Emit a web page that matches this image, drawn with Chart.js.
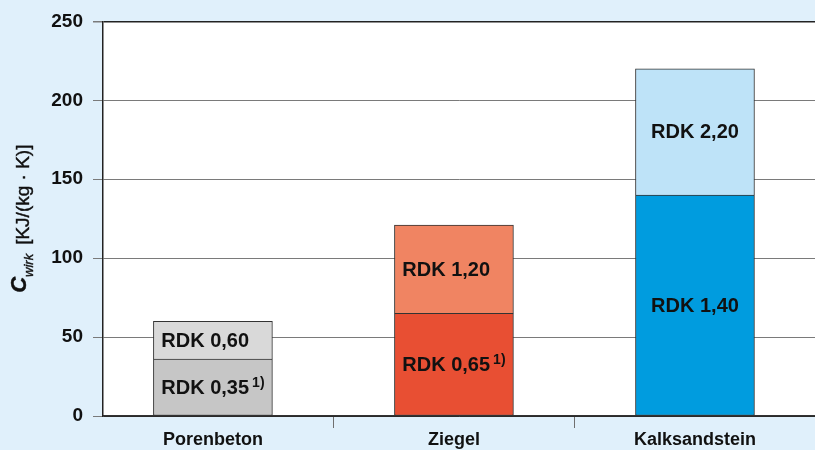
<!DOCTYPE html>
<html>
<head>
<meta charset="utf-8">
<script src="https://cdn.jsdelivr.net/npm/chart.js@4"></script>
<style>
  html, body { margin: 0; padding: 0; background: #E0F0FB; overflow: hidden; }
  canvas { display: block; }
</style>
</head>
<body>
<canvas id="chart" width="815" height="450"></canvas>
<script>
// ------------------------------
// Data
// ------------------------------
const categories = ["Porenbeton", "Ziegel", "Kalksandstein"];
const lowerValues = [36, 65, 140];   // lower density (RDK) segment
const upperValues = [24, 56, 80];    // added on top for the higher density
const lowerLabels = ["RDK 0,35", "RDK 0,65", "RDK 1,40"];
const lowerNotes = ["1)", "1)", ""];
const upperLabels = ["RDK 0,60", "RDK 1,20", "RDK 2,20"];
const upperNotes = ["", "", ""];
const lowerColors = ["#C6C6C6", "#E84F33", "#009CDF"];
const upperColors = ["#D9D9D9", "#F08462", "#BEE3F8"];
const yTicks = [0, 50, 100, 150, 200, 250];

const FONT = '"Liberation Sans", Arial, sans-serif';
const BG = "#E0F0FB";

// ------------------------------
// Plugins: background, y title, segment labels
// ------------------------------
const backgroundPlugin = {
  id: "background",
  beforeDraw(chart) {
    const { ctx, chartArea: a } = chart;
    ctx.save();
    ctx.fillStyle = BG;
    ctx.fillRect(0, 0, chart.width, chart.height);
    ctx.fillStyle = "#fff";
    ctx.fillRect(a.left, a.top, a.right - a.left, a.bottom - a.top);
    ctx.restore();
  }
};

const yTitlePlugin = {
  id: "yTitle",
  afterDraw(chart) {
    const { ctx, chartArea: a } = chart;
    // rotated text: dy > 0 moves a part to the right on screen
    const parts = [
      { text: "C", font: `italic bold 22px ${FONT}`, dy: -3 },
      { text: "wirk", font: `italic 13px ${FONT}`, dy: 4, gap: 9 },
      { text: "[KJ/(kg · K)]", font: `19px ${FONT}`, dy: 0 }
    ];
    let total = 0;
    parts.forEach(p => {
      ctx.font = p.font;
      p.w = ctx.measureText(p.text).width + (p.gap || 0);
      total += p.w;
    });
    const cy = (a.top + a.bottom) / 2;
    ctx.save();
    ctx.translate(29, cy + total / 2);
    ctx.rotate(-Math.PI / 2);
    ctx.fillStyle = "#111";
    ctx.strokeStyle = "#111";
    ctx.lineWidth = 0.4;
    ctx.textBaseline = "alphabetic";
    ctx.textAlign = "left";
    let x = 0;
    parts.forEach(p => {
      ctx.font = p.font;
      ctx.fillText(p.text, x, p.dy);
      ctx.strokeText(p.text, x, p.dy);
      x += p.w;
    });
    ctx.restore();
  }
};

const segmentLabelPlugin = {
  id: "segmentLabels",
  afterDatasetsDraw(chart) {
    const { ctx } = chart;
    const lower = chart.getDatasetMeta(0).data;
    const upper = chart.getDatasetMeta(1).data;
    const mainFont = `bold 20px ${FONT}`;
    const noteFont = `bold 14px ${FONT}`;
    const noteGap = 3;

    const widthOf = (label, note) => {
      ctx.font = mainFont;
      let w = ctx.measureText(label).width;
      if (note) {
        ctx.font = noteFont;
        w += noteGap + ctx.measureText(note).width;
      }
      return w;
    };

    ctx.save();
    ctx.fillStyle = "#111";
    ctx.textBaseline = "middle";
    ctx.textAlign = "left";
    categories.forEach((c, i) => {
      const lo = lower[i], up = upper[i];
      // labels of one bar share the same left edge, the widest one centred
      const maxW = Math.max(widthOf(lowerLabels[i], lowerNotes[i]), widthOf(upperLabels[i], upperNotes[i]));
      const x0 = lo.x - maxW / 2;
      const rows = [
        { el: lo, label: lowerLabels[i], note: lowerNotes[i] },
        { el: up, label: upperLabels[i], note: upperNotes[i] }
      ];
      rows.forEach(r => {
        const cy = (r.el.y + r.el.base) / 2 + 1;
        ctx.font = mainFont;
        ctx.fillText(r.label, x0, cy);
        if (r.note) {
          const w = ctx.measureText(r.label).width;
          ctx.font = noteFont;
          ctx.fillText(r.note, x0 + w + noteGap, cy - 5);
        }
      });
    });
    ctx.restore();
  }
};

// ------------------------------
// Chart
// ------------------------------
const toPoints = vals => vals.map((v, i) => ({ x: i, y: v }));

new Chart(document.getElementById("chart"), {
  type: "bar",
  data: {
    datasets: [
      {
        label: "lower",
        data: toPoints(lowerValues),
        backgroundColor: lowerColors,
        borderColor: "#333",
        borderWidth: 1,
        borderSkipped: false
      },
      {
        label: "upper",
        data: toPoints(upperValues),
        backgroundColor: upperColors,
        borderColor: "#333",
        borderWidth: 1,
        borderSkipped: "start"
      }
    ]
  },
  options: {
    responsive: false,
    animation: false,
    barThickness: 119,
    layout: { padding: { top: 20, left: 0, right: 0, bottom: 0 } },
    plugins: {
      legend: { display: false },
      tooltip: { enabled: false },
      title: { display: false }
    },
    scales: {
      x: {
        type: "linear",
        stacked: true,
        offset: false,
        min: -0.456,
        max: 2.498,
        afterBuildTicks: axis => { axis.ticks = categories.map((c, i) => ({ value: i })); },
        afterFit: axis => { axis.height = 34; },
        ticks: {
          autoSkip: false,
          maxRotation: 0,
          padding: 1,
          color: "#111",
          font: { family: FONT, size: 18, weight: "bold" },
          callback: v => categories[v]
        },
        grid: {
          offset: true,
          drawOnChartArea: false,
          tickLength: 12,
          color: "#6f6f6f",
          lineWidth: 1
        },
        border: { display: true, color: "#333", width: 1.5 }
      },
      y: {
        stacked: true,
        min: 0,
        max: 250,
        afterBuildTicks: axis => { axis.ticks = yTicks.map(v => ({ value: v })); },
        afterFit: axis => { axis.width = 103; },
        ticks: {
          padding: 10,
          color: "#111",
          font: { family: FONT, size: 19, weight: "bold" }
        },
        grid: {
          tickLength: 10,
          color: c => (c.tick && (c.tick.value === 250 || c.tick.value === 0) ? "#222" : "#7a7a7a"),
          tickColor: "#7a7a7a",
          lineWidth: c => (c.tick && c.tick.value === 250 ? 1.5 : 1)
        },
        border: { display: true, color: "#222", width: 1.5 }
      }
    }
  },
  plugins: [backgroundPlugin, yTitlePlugin, segmentLabelPlugin]
});
</script>
</body>
</html>
